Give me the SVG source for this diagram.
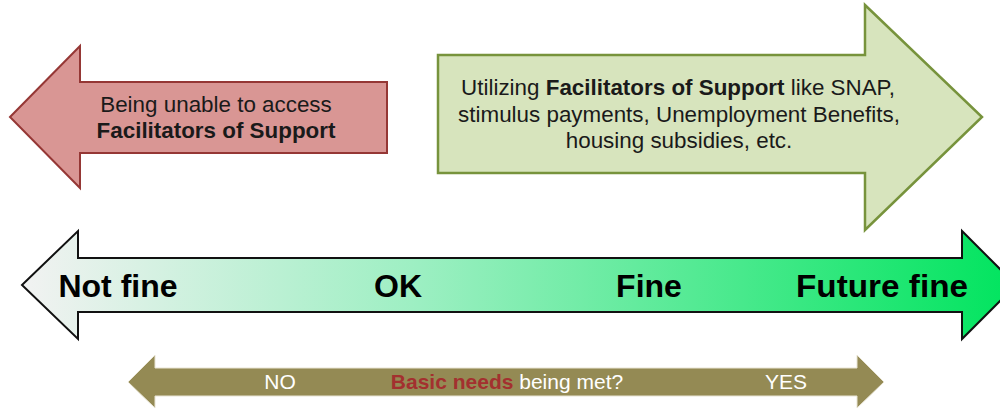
<svg xmlns="http://www.w3.org/2000/svg" width="1000" height="412" viewBox="0 0 1000 412">
  <defs>
    <linearGradient id="scale" x1="0" y1="0" x2="1" y2="0">
      <stop offset="0" stop-color="#f2f2f2"/>
      <stop offset="0.4" stop-color="#9cefc2"/>
      <stop offset="1" stop-color="#00e45e"/>
    </linearGradient>
    <style>
      text { font-family: "Liberation Sans", Arial, sans-serif; }
      .box { font-size: 22.4px; fill: #1a1a1a; text-anchor: middle; }
      .b { font-weight: bold; }
      .big { font-size: 32px; font-weight: bold; fill: #000; text-anchor: middle; }
      .small { font-size: 21px; fill: #ffffff; text-anchor: middle; }
    </style>
  </defs>
  <rect width="1000" height="412" fill="#ffffff"/>

  <g id="unable-arrow">
    <polygon points="10,117 80,46 80,82 387,82 387,153 80,153 80,188" fill="#d99694" stroke="#953735" stroke-width="2"/>
    <text class="box" x="216" y="112">Being unable to access</text>
    <text class="box b" x="216" y="138">Facilitators of Support</text>
  </g>

  <g id="utilizing-arrow">
    <polygon points="438,55 865,55 865,5 982,117 865,230 865,173 438,173" fill="#d7e4bd" stroke="#77933c" stroke-width="2.5"/>
    <text class="box" x="678" y="95">Utilizing <tspan class="b">Facilitators of Support</tspan> like SNAP,</text>
    <text class="box" x="679" y="122">stimulus payments, Unemployment Benefits,</text>
    <text class="box" x="679" y="148">housing subsidies, etc.</text>
  </g>

  <g id="scale-arrow">
    <polygon points="22,285 78,231 78,258 962,258 962,231 1016,285 962,339 962,312 78,312 78,339" fill="url(#scale)" stroke="#111111" stroke-width="2"/>
    <text class="big" x="118" y="297">Not fine</text>
    <text class="big" x="398" y="297">OK</text>
    <text class="big" x="649" y="297">Fine</text>
    <text class="big" x="882" y="297" textLength="172" lengthAdjust="spacingAndGlyphs">Future fine</text>
  </g>

  <g id="needs-arrow">
    <polygon points="128,382 155,355 155,368 857,368 857,355 884,382 857,408 857,396 155,396 155,408" fill="#948a54" stroke="#e8e4d4" stroke-width="1"/>
    <text class="small" x="280" y="389">NO</text>
    <text class="small" x="507" y="389"><tspan font-weight="bold" fill="#a3302f">Basic needs</tspan> being met?</text>
    <text class="small" x="786" y="389">YES</text>
  </g>
</svg>
